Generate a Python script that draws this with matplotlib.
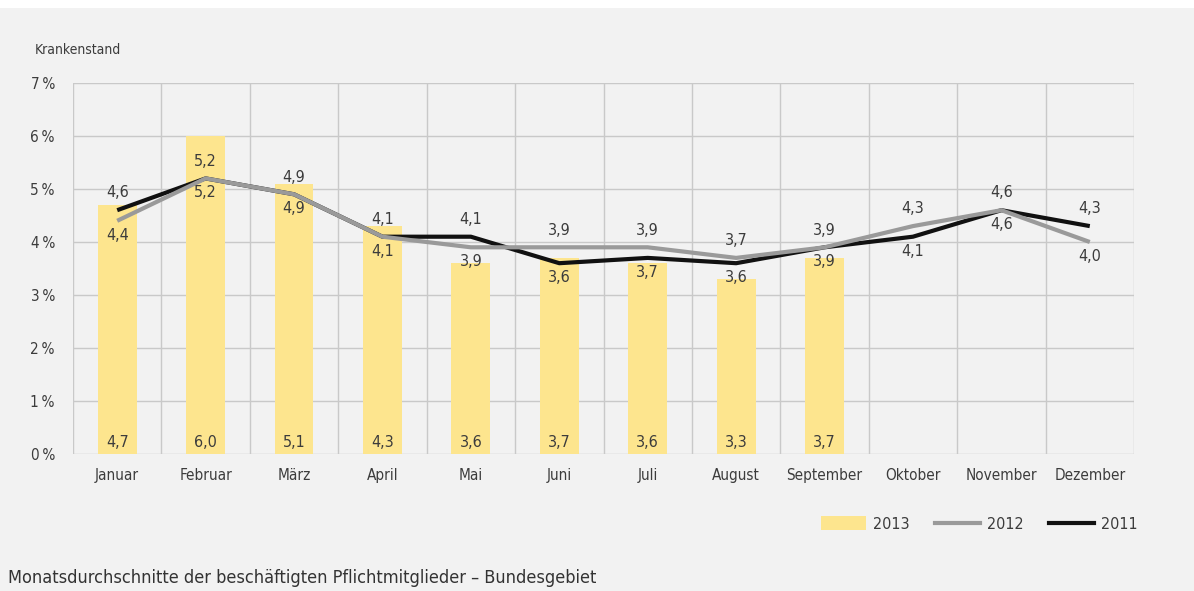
import matplotlib
matplotlib.use("Agg")
import matplotlib.pyplot as plt
from matplotlib import font_manager
from matplotlib.patches import Rectangle
from matplotlib.lines import Line2D
import numpy as np

months = ["Januar", "Februar", "März", "April", "Mai", "Juni", "Juli",
          "August", "September", "Oktober", "November", "Dezember"]
vals_2013 = [4.7, 6.0, 5.1, 4.3, 3.6, 3.7, 3.6, 3.3, 3.7]
vals_2012 = [4.4, 5.2, 4.9, 4.1, 3.9, 3.9, 3.9, 3.7, 3.9, 4.3, 4.6, 4.0]
vals_2011 = [4.6, 5.2, 4.9, 4.1, 4.1, 3.6, 3.7, 3.6, 3.9, 4.1, 4.6, 4.3]
y_ticks = [0, 1, 2, 3, 4, 5, 6, 7]

BG = "#f2f2f2"
BAR = "#fde58e"
GREY_LINE = "#9a9a9a"
BLACK_LINE = "#111111"
TXT = "#3c3c3c"
GRID = "#c9c9c9"

# pick a narrow sans face if one is installed
narrow = [f for f in font_manager.fontManager.ttflist
          if f.stretch in ("condensed", "semi-condensed", "extra-condensed")
          or "Narrow" in f.name or "Condensed" in f.name]
narrow = [f for f in narrow if f.weight in (400, "normal", "regular", "book")
          and f.style == "normal"] or narrow
if narrow:
    FP = dict(fname=narrow[0].fname)
else:
    FP = dict(family="DejaVu Sans")

def fp(size):
    return font_manager.FontProperties(size=size, **FP)

W, H = 1194, 591
fig = plt.figure(figsize=(W / 100, H / 100), dpi=100, facecolor=BG)
fig.patches.append(Rectangle((0, 1 - 8 / H), 1, 8 / H, transform=fig.transFigure,
                             facecolor="white", edgecolor="none", zorder=0))

ax = fig.add_axes([73 / W, (H - 454) / H, (1134 - 73) / W, (454 - 83) / H])
ax.set_facecolor(BG)
n = len(months)
x = np.arange(n)
ax.set_xlim(-0.5, n - 0.5)
ax.set_ylim(0, 7)

# grid: horizontal at each percent, vertical between months
for yv in y_ticks:
    ax.axhline(yv, color=GRID, lw=1, zorder=1)
for b in np.arange(-0.5, n, 1.0):
    ax.axvline(b, color=GRID, lw=1, zorder=1)
for s in ax.spines.values():
    s.set_visible(False)

ax.bar(x[:len(vals_2013)], vals_2013, width=0.44, color=BAR, zorder=2)
ax.plot(x, vals_2011, color=BLACK_LINE, lw=3, zorder=3, solid_capstyle="butt")
ax.plot(x, vals_2012, color=GREY_LINE, lw=3, zorder=4, solid_capstyle="butt")

def fmt(v):
    return f"{v:.1f}".replace(".", ",")

lab_fs = 11.5
for i, v in enumerate(vals_2013):
    ax.text(x[i], 0.07, fmt(v), ha="center", va="bottom", fontproperties=fp(lab_fs),
            color=TXT, zorder=5)

for i in range(n):
    a, b = vals_2011[i], vals_2012[i]
    hi, lo = (a, b) if a >= b else (b, a)
    ax.annotate(fmt(hi), (x[i], hi), xytext=(0, 7), textcoords="offset points",
                ha="center", va="bottom", fontproperties=fp(lab_fs), color=TXT, zorder=5)
    ax.annotate(fmt(lo), (x[i], lo), xytext=(0, -5), textcoords="offset points",
                ha="center", va="top", fontproperties=fp(lab_fs), color=TXT, zorder=5)

ax.set_xticks(x)
ax.set_xticklabels(months, color=TXT)
ax.set_yticks(y_ticks)
ax.set_yticklabels([f"{t}\u2009%" for t in y_ticks], color=TXT)
for t in ax.get_xticklabels():
    t.set_fontproperties(fp(11))
for t in ax.get_yticklabels():
    t.set_fontproperties(fp(11))
ax.tick_params(length=0)
ax.tick_params(axis="x", pad=10)
ax.tick_params(axis="y", pad=13)

fig.text(35 / W, 1 - 50 / H, "Krankenstand", fontproperties=fp(10), color=TXT,
         ha="left", va="center")

handles = [Rectangle((0, 0), 1, 1, facecolor=BAR, edgecolor="none"),
           Line2D([], [], color=GREY_LINE, lw=3),
           Line2D([], [], color=BLACK_LINE, lw=3)]
leg = fig.legend(handles, ["2013", "2012", "2011"], loc="center right",
                 bbox_to_anchor=(1138 / W, 1 - 524 / H), ncol=3, frameon=False,
                 prop=fp(11.5), handlelength=2.8, handleheight=1.0,
                 columnspacing=1.6, handletextpad=0.45,
                 borderaxespad=0, borderpad=0)
for t in leg.get_texts():
    t.set_color(TXT)

fig.text(8 / W, 1 - 578 / H,
         "Monatsdurchschnitte der beschäftigten Pflichtmitglieder – Bundesgebiet",
         fontproperties=fp(13), color="#333333", ha="left", va="center")

fig.savefig("out.png", dpi=100, facecolor=BG)
